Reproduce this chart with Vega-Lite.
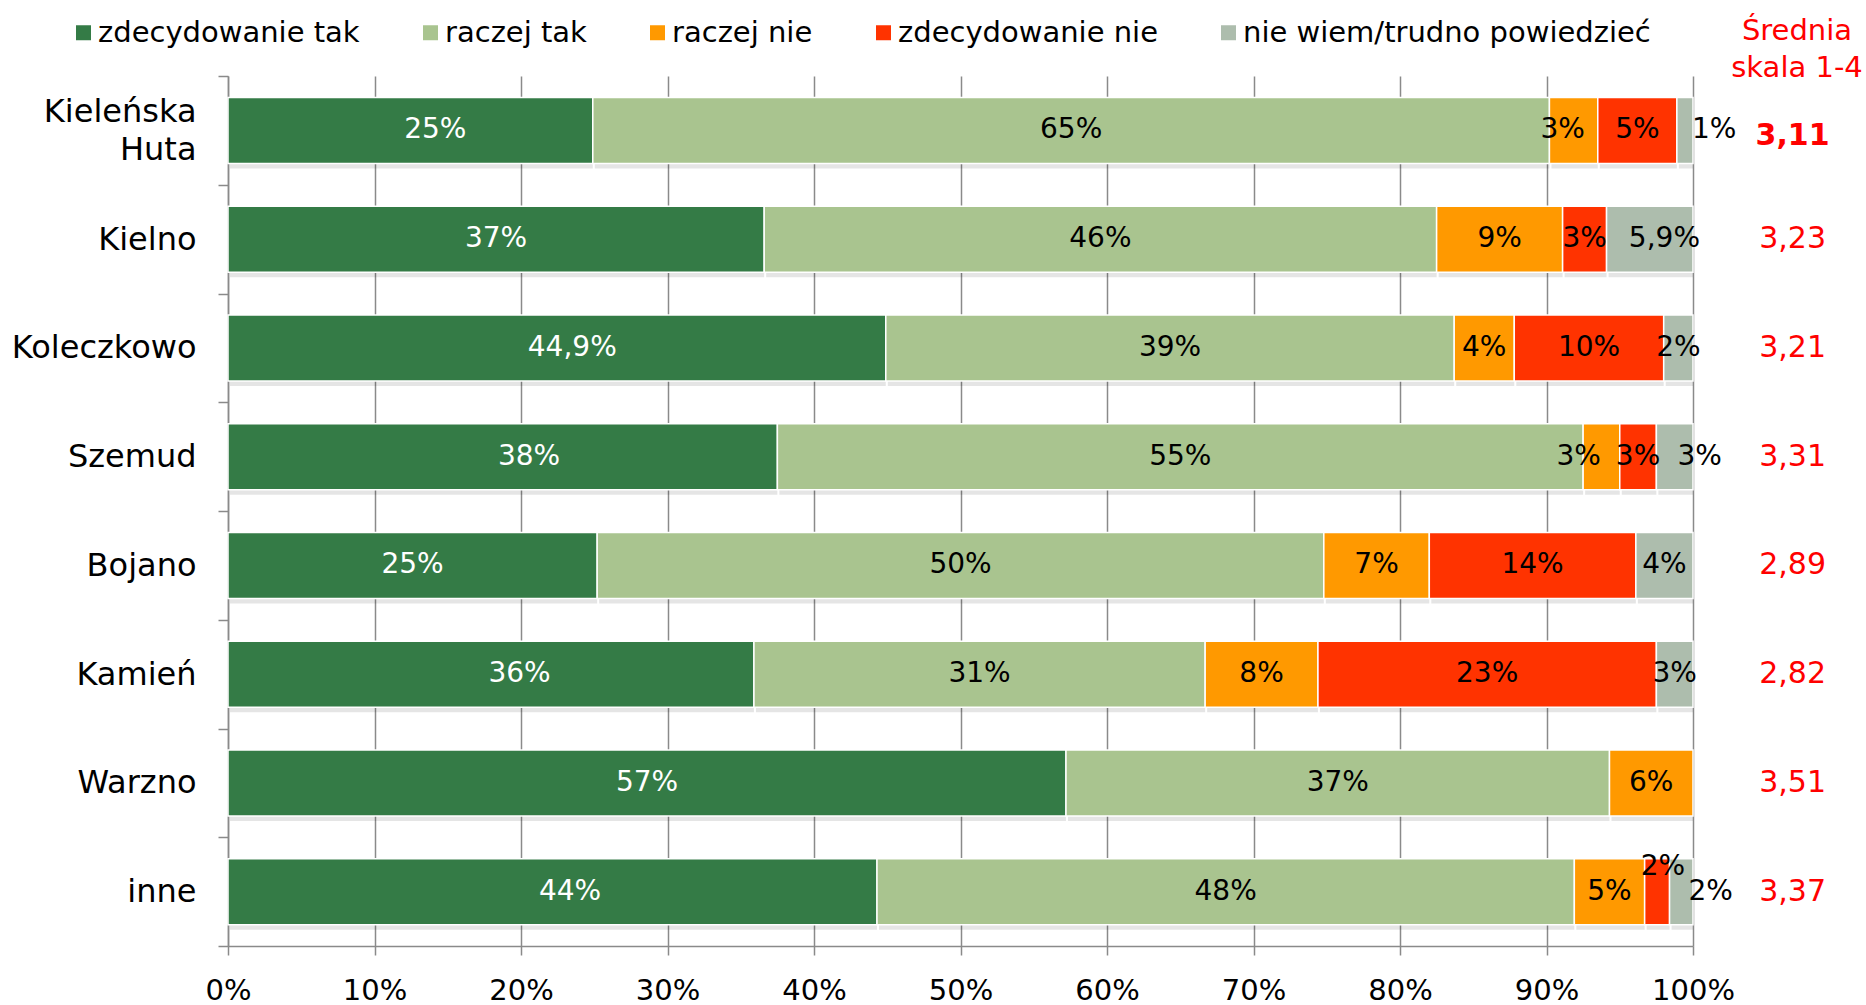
{
  "$schema": "https://vega.github.io/schema/vega-lite/v6.json",
  "width": 1465,
  "height": 870,
  "autosize": {"type": "none"},
  "padding": {"left": 228, "top": 76, "right": 173, "bottom": 59},
  "config": {
    "font": "DejaVu Sans",
    "view": {"stroke": null},
    "legend": {"labelFont": "DejaVu Sans"}
  },
  "title": {
    "text": ["Średnia", "skala 1-4"],
    "anchor": "end",
    "align": "center",
    "dx": 104,
    "fontSize": 29,
    "fontWeight": "normal",
    "color": "#FF0000",
    "lineHeight": 37,
    "frame": "group",
    "offset": -65
  },
  "datasets": {
    "bars": [
      {"cat": "Kieleńska Huta", "s": "zdecydowanie tak", "v": 24.9, "lab": "25%"},
      {"cat": "Kieleńska Huta", "s": "raczej tak", "v": 65.3, "lab": "65%"},
      {"cat": "Kieleńska Huta", "s": "raczej nie", "v": 3.3, "lab": "3%"},
      {"cat": "Kieleńska Huta", "s": "zdecydowanie nie", "v": 5.4, "lab": "5%"},
      {"cat": "Kieleńska Huta", "s": "nie wiem/trudno powiedzieć", "v": 1.1, "lab": "1%"},
      {"cat": "Kielno", "s": "zdecydowanie tak", "v": 36.6, "lab": "37%"},
      {"cat": "Kielno", "s": "raczej tak", "v": 45.9, "lab": "46%"},
      {"cat": "Kielno", "s": "raczej nie", "v": 8.6, "lab": "9%"},
      {"cat": "Kielno", "s": "zdecydowanie nie", "v": 3.0, "lab": "3%"},
      {"cat": "Kielno", "s": "nie wiem/trudno powiedzieć", "v": 5.9, "lab": "5,9%"},
      {"cat": "Koleczkowo", "s": "zdecydowanie tak", "v": 44.9, "lab": "44,9%"},
      {"cat": "Koleczkowo", "s": "raczej tak", "v": 38.8, "lab": "39%"},
      {"cat": "Koleczkowo", "s": "raczej nie", "v": 4.1, "lab": "4%"},
      {"cat": "Koleczkowo", "s": "zdecydowanie nie", "v": 10.2, "lab": "10%"},
      {"cat": "Koleczkowo", "s": "nie wiem/trudno powiedzieć", "v": 2.0, "lab": "2%"},
      {"cat": "Szemud", "s": "zdecydowanie tak", "v": 37.5, "lab": "38%"},
      {"cat": "Szemud", "s": "raczej tak", "v": 55.0, "lab": "55%"},
      {"cat": "Szemud", "s": "raczej nie", "v": 2.5, "lab": "3%"},
      {"cat": "Szemud", "s": "zdecydowanie nie", "v": 2.5, "lab": "3%"},
      {"cat": "Szemud", "s": "nie wiem/trudno powiedzieć", "v": 2.5, "lab": "3%"},
      {"cat": "Bojano", "s": "zdecydowanie tak", "v": 25.2, "lab": "25%"},
      {"cat": "Bojano", "s": "raczej tak", "v": 49.6, "lab": "50%"},
      {"cat": "Bojano", "s": "raczej nie", "v": 7.2, "lab": "7%"},
      {"cat": "Bojano", "s": "zdecydowanie nie", "v": 14.1, "lab": "14%"},
      {"cat": "Bojano", "s": "nie wiem/trudno powiedzieć", "v": 3.9, "lab": "4%"},
      {"cat": "Kamień", "s": "zdecydowanie tak", "v": 35.9, "lab": "36%"},
      {"cat": "Kamień", "s": "raczej tak", "v": 30.8, "lab": "31%"},
      {"cat": "Kamień", "s": "raczej nie", "v": 7.7, "lab": "8%"},
      {"cat": "Kamień", "s": "zdecydowanie nie", "v": 23.1, "lab": "23%"},
      {"cat": "Kamień", "s": "nie wiem/trudno powiedzieć", "v": 2.5, "lab": "3%"},
      {"cat": "Warzno", "s": "zdecydowanie tak", "v": 57.2, "lab": "57%"},
      {"cat": "Warzno", "s": "raczej tak", "v": 37.1, "lab": "37%"},
      {"cat": "Warzno", "s": "raczej nie", "v": 5.7, "lab": "6%"},
      {"cat": "inne", "s": "zdecydowanie tak", "v": 44.3, "lab": "44%"},
      {"cat": "inne", "s": "raczej tak", "v": 47.6, "lab": "48%"},
      {"cat": "inne", "s": "raczej nie", "v": 4.8, "lab": "5%"},
      {"cat": "inne", "s": "zdecydowanie nie", "v": 1.7, "lab": "2%"},
      {"cat": "inne", "s": "nie wiem/trudno powiedzieć", "v": 1.6, "lab": "2%"}
    ],
    "avg": [
      {"cat": "Kieleńska Huta", "avg": "3,11", "bold": true},
      {"cat": "Kielno", "avg": "3,23", "bold": false},
      {"cat": "Koleczkowo", "avg": "3,21", "bold": false},
      {"cat": "Szemud", "avg": "3,31", "bold": false},
      {"cat": "Bojano", "avg": "2,89", "bold": false},
      {"cat": "Kamień", "avg": "2,82", "bold": false},
      {"cat": "Warzno", "avg": "3,51", "bold": false},
      {"cat": "inne", "avg": "3,37", "bold": false}
    ]
  },
  "layer": [
    {
      "data": {"name": "bars"},
      "transform": [
        {"calculate": "indexof(['zdecydowanie tak','raczej tak','raczej nie','zdecydowanie nie','nie wiem/trudno powiedzieć'], datum.s)", "as": "ord"},
        {"stack": "v", "groupby": ["cat"], "sort": [{"field": "ord", "order": "ascending"}], "as": ["v0", "v1"]}
      ],
      "mark": {"type": "bar", "color": "#000000", "opacity": 0.1, "size": 66, "yOffset": 5, "xOffset": 2},
      "encoding": {
        "y": {"field": "cat", "type": "nominal", "sort": ["Kieleńska Huta", "Kielno", "Koleczkowo", "Szemud", "Bojano", "Kamień", "Warzno", "inne"],
              "scale": {"paddingInner": 0, "paddingOuter": 0},
              "axis": {"title": null, "tickBand": "extent", "labelFontSize": 32, "labelColor": "#000000", "labelPadding": 22, "labelLimit": 400, "tickSize": 10, "tickColor": "#8a8a8a", "tickWidth": 1.5, "domainColor": "#8a8a8a", "domainWidth": 1.5, "labelExpr": "split(datum.label, ' ')", "labelLineHeight": 38,
                       "labelOffset": {"condition": {"test": "datum.value == 'Kieleńska Huta'", "value": -19}, "value": 0}, "grid": false}},
        "x": {"field": "v0", "type": "quantitative",
              "scale": {"domain": [0, 100], "nice": false},
              "axis": {"title": null, "values": [0, 10, 20, 30, 40, 50, 60, 70, 80, 90, 100], "labelExpr": "datum.value + '%'", "labelFlush": false, "labelFontSize": 29, "labelColor": "#000000", "labelPadding": 21, "tickSize": 9, "tickColor": "#8a8a8a", "tickWidth": 1.5, "domainColor": "#8a8a8a", "domainWidth": 1.5, "grid": true, "gridColor": "#8a8a8a", "gridWidth": 1.5}},
        "x2": {"field": "v1"}
      }
    },
    {
      "data": {"name": "bars"},
      "transform": [
        {"calculate": "indexof(['zdecydowanie tak','raczej tak','raczej nie','zdecydowanie nie','nie wiem/trudno powiedzieć'], datum.s)", "as": "ord"},
        {"stack": "v", "groupby": ["cat"], "sort": [{"field": "ord", "order": "ascending"}], "as": ["v0", "v1"]}
      ],
      "mark": {"type": "bar", "size": 66, "stroke": "#ffffff", "strokeWidth": 1.5},
      "encoding": {
        "y": {"field": "cat", "type": "nominal", "sort": ["Kieleńska Huta", "Kielno", "Koleczkowo", "Szemud", "Bojano", "Kamień", "Warzno", "inne"]},
        "x": {"field": "v0", "type": "quantitative"},
        "x2": {"field": "v1"},
        "color": {"field": "s", "type": "nominal",
                  "scale": {"domain": ["zdecydowanie tak", "raczej tak", "raczej nie", "zdecydowanie nie", "nie wiem/trudno powiedzieć"],
                            "range": ["#347B46", "#A9C48F", "#FF9900", "#FF3300", "#ADBDAD"]},
                  "legend": {"title": null, "orient": "none", "legendX": -159, "legendY": -58, "direction": "horizontal",
                             "symbolType": "square", "symbolSize": 225, "symbolStrokeWidth": 0, "labelFontSize": 29, "labelColor": "#000000",
                             "labelOffset": 0, "columnPadding": 56, "labelLimit": 600}}
      }
    },
    {
      "data": {"name": "bars"},
      "transform": [
        {"calculate": "indexof(['zdecydowanie tak','raczej tak','raczej nie','zdecydowanie nie','nie wiem/trudno powiedzieć'], datum.s)", "as": "ord"},
        {"stack": "v", "groupby": ["cat"], "sort": [{"field": "ord", "order": "ascending"}], "as": ["v0", "v1"]},
        {"calculate": "datum.cat + '|' + datum.s", "as": "key"},
        {"calculate": "(datum.v0 + datum.v1) / 2 + (datum.key == 'Kieleńska Huta|zdecydowanie tak' ? 1.7 : datum.key == 'Koleczkowo|zdecydowanie tak' ? 1.05 : datum.key == 'Szemud|zdecydowanie tak' ? 1.8 : datum.key == 'Kamień|zdecydowanie tak' ? 1.95 : datum.key == 'inne|zdecydowanie tak' ? 1.2 : datum.key == 'Kieleńska Huta|raczej nie' ? -0.75 : datum.key == 'Kieleńska Huta|nie wiem/trudno powiedzieć' ? 2.0 : datum.key == 'Kielno|nie wiem/trudno powiedzieć' ? 1.0 : datum.key == 'Szemud|raczej nie' ? -1.55 : datum.key == 'Szemud|nie wiem/trudno powiedzieć' ? 1.7 : datum.key == 'inne|nie wiem/trudno powiedzieć' ? 2.0 : datum.key == 'inne|zdecydowanie nie' ? 0.4 : 0)", "as": "mid"}
      ],
      "layer": [
        {
          "transform": [{"filter": "datum.key != 'inne|zdecydowanie nie'"}],
          "mark": {"type": "text", "fontSize": 28, "align": "center", "baseline": "middle"},
          "encoding": {
            "y": {"field": "cat", "type": "nominal", "sort": ["Kieleńska Huta", "Kielno", "Koleczkowo", "Szemud", "Bojano", "Kamień", "Warzno", "inne"]},
            "x": {"field": "mid", "type": "quantitative"},
            "text": {"field": "lab"},
            "color": {"condition": {"test": "datum.s == 'zdecydowanie tak'", "value": "#ffffff"}, "value": "#000000"}
          }
        },
        {
          "transform": [{"filter": "datum.key == 'inne|zdecydowanie nie'"}],
          "mark": {"type": "text", "fontSize": 28, "align": "center", "baseline": "middle", "dy": -25, "color": "#000000"},
          "encoding": {
            "y": {"field": "cat", "type": "nominal", "sort": ["Kieleńska Huta", "Kielno", "Koleczkowo", "Szemud", "Bojano", "Kamień", "Warzno", "inne"]},
            "x": {"field": "mid", "type": "quantitative"},
            "text": {"field": "lab"}
          }
        }
      ]
    },
    {
      "data": {"name": "avg"},
      "mark": {"type": "text", "fontSize": 30, "align": "center", "baseline": "middle", "color": "#FF0000"},
      "transform": [{"filter": "!datum.bold"}],
      "encoding": {
        "y": {"field": "cat", "type": "nominal", "sort": ["Kieleńska Huta", "Kielno", "Koleczkowo", "Szemud", "Bojano", "Kamień", "Warzno", "inne"]},
        "x": {"datum": 106.8, "type": "quantitative"},
        "text": {"field": "avg"}
      }
    },
    {
      "data": {"name": "avg"},
      "mark": {"type": "text", "fontSize": 30, "fontWeight": "bold", "align": "center", "baseline": "middle", "color": "#FF0000", "dy": 6},
      "transform": [{"filter": "datum.bold"}],
      "encoding": {
        "y": {"field": "cat", "type": "nominal", "sort": ["Kieleńska Huta", "Kielno", "Koleczkowo", "Szemud", "Bojano", "Kamień", "Warzno", "inne"]},
        "x": {"datum": 106.8, "type": "quantitative"},
        "text": {"field": "avg"}
      }
    }
  ]
}
